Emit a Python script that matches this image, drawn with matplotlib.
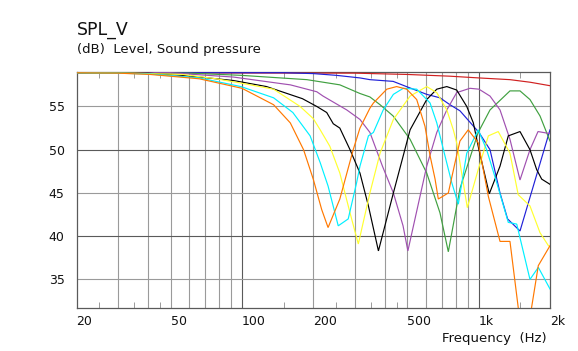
import numpy as np
import matplotlib
matplotlib.use("Agg")
import matplotlib.pyplot as plt
from matplotlib.ticker import FixedLocator, NullFormatter

# ---- data ----
red_f = [20, 300, 500, 756, 1000, 1355, 1650, 2000]
red_db = [58.9, 58.85, 58.7, 58.5, 58.3, 58.1, 57.8, 57.4]

blue_f = [20, 150, 200, 250, 315, 347, 435, 495, 603, 686, 756, 833, 1002, 1116, 1230, 1324, 1494, 2000]
blue_db = [58.9, 58.9, 58.8, 58.6, 58.3, 58.1, 57.9, 57.3, 56.4, 56.0, 55.2, 54.5, 52.0, 50.0, 45.0, 42.0, 40.6, 52.3]

green_f = [20, 60, 99, 188, 259, 315, 347, 383, 435, 513, 603, 686, 744, 833, 995, 1116, 1355, 1494, 1646, 1815, 2000]
green_db = [58.9, 58.85, 58.6, 58.1, 57.5, 56.5, 56.1, 55.2, 53.9, 51.2, 47.3, 42.7, 38.2, 45.5, 52.0, 54.6, 56.8, 56.8, 55.8, 53.9, 51.0]

purple_f = [20, 50, 63, 92, 150, 160, 207, 220, 277, 315, 347, 392, 436, 479, 502, 603, 665, 733, 807, 918, 1002, 1116, 1230, 1355, 1494, 1646, 1780, 1961, 2000]
purple_db = [58.9, 58.9, 58.7, 58.4, 57.6, 57.5, 56.7, 56.2, 54.6, 53.5, 52.0, 48.1, 45.0, 41.2, 38.3, 48.1, 52.0, 54.6, 56.6, 57.1, 57.0, 56.2, 54.6, 51.2, 46.5, 50.0, 52.1, 51.9, 51.9]

black_f = [20, 40, 56, 92, 127, 180, 207, 228, 243, 259, 286, 315, 342, 377, 436, 513, 603, 665, 733, 807, 890, 949, 1002, 1063, 1108, 1230, 1333, 1494, 1646, 1757, 1845, 2000]
black_db = [58.9, 58.85, 58.6, 58.0, 57.3, 55.9, 55.0, 54.3, 53.0, 52.5, 50.0, 47.3, 43.5, 38.3, 45.0, 52.3, 55.8, 57.0, 57.3, 56.9, 55.0, 53.1, 50.0, 47.0, 44.9, 48.1, 51.6, 52.1, 50.0, 47.7, 46.6, 46.0]

yellow_f = [20, 35, 56, 78, 99, 136, 176, 200, 214, 235, 259, 286, 310, 347, 383, 436, 513, 603, 665, 733, 781, 807, 847, 895, 995, 1098, 1209, 1355, 1468, 1646, 1815, 1970, 2000]
yellow_db = [58.9, 58.85, 58.7, 58.2, 57.7, 57.0, 55.0, 53.6, 52.3, 50.4, 47.3, 42.7, 39.1, 45.0, 49.6, 53.5, 56.2, 57.3, 56.6, 54.6, 52.3, 50.8, 47.3, 43.3, 47.7, 51.6, 52.1, 49.6, 44.8, 43.5, 40.4, 38.9, 38.8]

cyan_f = [20, 30, 41, 66, 99, 136, 164, 194, 214, 231, 255, 281, 305, 315, 342, 359, 395, 436, 480, 547, 623, 665, 720, 769, 820, 890, 995, 1080, 1191, 1333, 1447, 1646, 1785, 2000]
cyan_db = [58.9, 58.85, 58.75, 58.3, 57.3, 56.0, 54.3, 51.6, 48.5, 45.8, 41.2, 42.0, 46.2, 48.1, 51.6, 52.0, 54.6, 56.4, 57.1, 57.0, 55.4, 53.1, 49.3, 46.2, 43.7, 49.6, 52.3, 50.0, 46.2, 41.6, 41.4, 35.0, 36.4, 33.9]

orange_f = [20, 30, 41, 66, 100, 136, 160, 182, 200, 217, 231, 259, 295, 315, 347, 359, 409, 450, 496, 547, 593, 623, 654, 675, 744, 794, 833, 903, 995, 1098, 1230, 1355, 1494, 1635, 1785, 2000]
orange_db = [58.9, 58.85, 58.7, 58.2, 57.1, 55.2, 53.1, 50.0, 46.6, 43.1, 41.0, 44.3, 50.0, 52.5, 54.8, 55.4, 57.0, 57.3, 57.0, 55.8, 52.7, 49.3, 46.6, 44.3, 45.0, 48.5, 51.0, 52.3, 50.8, 44.6, 39.4, 39.4, 30.1, 30.1, 36.6, 38.9]

xtick_vals = [20, 50, 100, 200, 500, 1000, 2000]
xtick_labels = ["20", "50", "100", "200", "500", "1k", "2k"]
ytick_vals = [35, 40, 45, 50, 55]

series = [
    (red_f, red_db, "#D02020"),
    (blue_f, blue_db, "#2020D8"),
    (green_f, green_db, "#40A040"),
    (purple_f, purple_db, "#A050B0"),
    (black_f, black_db, "#000000"),
    (yellow_f, yellow_db, "#FFFF30"),
    (cyan_f, cyan_db, "#00F0FF"),
    (orange_f, orange_db, "#FF7800"),
]

W, H = 578, 351
fig = plt.figure(figsize=(W / 100, H / 100), dpi=100)
fig.patch.set_facecolor("white")
ax = fig.add_axes([76.5 / W, 1 - 308 / H, (550 - 76.5) / W, (308 - 72.3) / H])
ax.set_xscale("log")
ax.set_xlim(20, 2000)
ax.set_ylim(31.7, 58.95)

# grid lines
light = "#9a9a9a"
dark = "#5a5a5a"
for g in [30, 40, 50, 60, 70, 80, 90, 200, 300, 400, 500, 600, 700, 800, 900]:
    ax.axvline(g, color=light, lw=0.8, zorder=1)
for g in [100, 1000]:
    ax.axvline(g, color=dark, lw=0.8, zorder=1)
for g in [35, 45, 55]:
    ax.axhline(g, color=light, lw=0.8, zorder=1)
for g in [40, 50]:
    ax.axhline(g, color=dark, lw=0.8, zorder=1)

for f, d, c in series:
    ax.plot(f, d, color=c, lw=0.85, zorder=3, solid_joinstyle="miter")

for s in ax.spines.values():
    s.set_color("#5a5a5a")
    s.set_linewidth(0.9)
ax.spines["top"].set_zorder(2)

ax.xaxis.set_major_locator(FixedLocator(xtick_vals))
ax.xaxis.set_minor_locator(FixedLocator([25, 35, 45, 150, 250, 350, 450, 1500]))
ax.xaxis.set_minor_formatter(NullFormatter())
ax.set_xticklabels(xtick_labels)
for lab in ax.get_xticklabels():
    lab.set_horizontalalignment("left")
ax.tick_params(axis="x", which="major", length=0, pad=5, labelsize=9, labelcolor="#111111")
ax.tick_params(axis="x", which="minor", direction="in", length=4, color="#8a8a8a",
               top=True, bottom=True)
ax.set_yticks(ytick_vals)
ax.tick_params(axis="y", which="major", length=0, pad=8.5, labelsize=9, labelcolor="#111111")

fig.text(77 / W, 1 - 34.8 / H, "SPL_V", fontsize=12.5, ha="left", va="baseline", color="#111111")
fig.text(77 / W, 1 - 53.0 / H, "(dB)  Level, Sound pressure", fontsize=9.5, ha="left",
         va="baseline", color="#111111")
fig.text(547 / W, 1 - 342.3 / H, "Frequency  (Hz)", fontsize=9.5, ha="right", va="baseline",
         color="#111111")

fig.savefig("out.png", dpi=100, facecolor="white")
